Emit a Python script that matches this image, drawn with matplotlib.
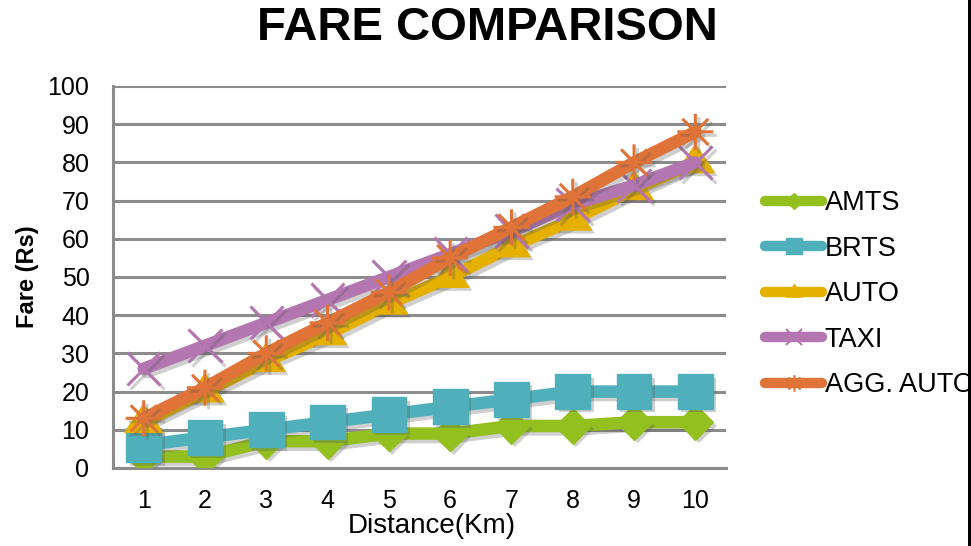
import matplotlib
matplotlib.use("Agg")
import matplotlib.pyplot as plt
import matplotlib.patheffects as pe
from matplotlib.path import Path
from matplotlib.lines import Line2D
from matplotlib.patches import Rectangle

plt.rcParams['font.family'] = ['Liberation Sans', 'DejaVu Sans']

distance = [1, 2, 3, 4, 5, 6, 7, 8, 9, 10]
amts = [3, 3, 7, 7, 9, 9, 11, 11, 12, 12]
brts = [6, 8, 10, 12, 14, 16, 18, 20, 20, 20]
auto = [12, 20, 28, 35, 43, 50, 58, 65, 73, 80]
taxi = [26, 32, 38, 44, 50, 56, 62, 69, 74, 80]
agg_auto = [13, 21, 30, 38, 46, 55, 63, 71, 80, 88]
series_names = ["AMTS", "BRTS", "AUTO", "TAXI", "AGG. AUTO"]
colors = ["#93C01F", "#4FB0BB", "#E5B000", "#B476B0", "#E07338"]

# asterisk marker: plus and cross strokes
asterisk = Path(
    [(-1, 0), (1, 0), (0, -1), (0, 1),
     (-0.72, -0.72), (0.72, 0.72), (-0.72, 0.72), (0.72, -0.72)],
    [Path.MOVETO, Path.LINETO] * 4)
# wide, low triangle
triangle = Path([(-1, -0.55), (1, -0.55), (0, 0.95), (-1, -0.55)],
                [Path.MOVETO, Path.LINETO, Path.LINETO, Path.CLOSEPOLY])

styles = [
    dict(marker="D", ms=18, filled=True),
    dict(marker="s", ms=25, filled=True),
    dict(marker=triangle, ms=27, filled=True),
    dict(marker="x", ms=24, filled=False, mew=2.2),
    dict(marker=asterisk, ms=26, filled=False, mew=2.2),
]

fig = plt.figure(figsize=(9.71, 5.46), dpi=100)
ax = fig.add_axes([0.1164, 0.1429, 0.6313, 0.6996])

line_shadow = [pe.SimpleLineShadow(offset=(2.5, -2.5), shadow_color="#555555", alpha=0.28),
               pe.Normal()]
patch_shadow = [pe.SimplePatchShadow(offset=(2.5, -2.5), shadow_rgbFace="#555555", alpha=0.28),
                pe.Normal()]

data = [amts, brts, auto, taxi, agg_auto]
for i, (vals, col, st) in enumerate(zip(data, colors, styles)):
    z = 3 + i
    ax.plot(distance, vals, color=col, lw=9, solid_capstyle="round",
            solid_joinstyle="round", zorder=z, path_effects=line_shadow)
    if st["filled"]:
        ax.plot(distance, vals, ls="none", marker=st["marker"], ms=st["ms"],
                mfc=col, mec=col, mew=1, zorder=z + 0.5, path_effects=patch_shadow)
    else:
        ax.plot(distance, vals, ls="none", marker=st["marker"], ms=st["ms"],
                mfc="none", mec=col, mew=st["mew"], zorder=z + 0.5,
                path_effects=line_shadow)

ax.set_xlim(0.5, 10.5)
ax.set_ylim(0, 100)
ax.set_xticks(distance)
ax.set_yticks(range(0, 101, 10))
ax.tick_params(axis="both", length=0, labelsize=18, pad=17)
ax.tick_params(axis="x", pad=15)
ax.yaxis.grid(True, color="#8C8C8C", lw=2.2)
ax.set_axisbelow(True)
for s in ["top", "right"]:
    ax.spines[s].set_visible(False)
for s in ["left", "bottom"]:
    ax.spines[s].set_color("#8C8C8C")
    ax.spines[s].set_linewidth(2.2)

ax.set_xlabel("Distance(Km)", fontsize=20, labelpad=0)
ax.xaxis.set_label_coords(0.52, -0.118)
ax.set_ylabel("Fare (Rs)", fontsize=17, fontweight="bold")
ax.yaxis.set_label_coords(-0.12, 0.5)

fig.text(0.502, 0.948, "FARE COMPARISON", fontsize=34, fontweight="bold",
         ha="center", va="center")

# legend handles: short round-capped lines with small markers
handle_ms = [8, 11, 12, 11, 12]
handles = []
for col, st, ms in zip(colors, styles, handle_ms):
    if st["filled"]:
        h = Line2D([], [], color=col, lw=7.5, solid_capstyle="round",
                   marker=st["marker"], ms=ms, mfc=col, mec=col)
    else:
        h = Line2D([], [], color=col, lw=7.5, solid_capstyle="round",
                   marker=st["marker"], ms=ms, mfc="none", mec=col, mew=1.5)
    handles.append(h)

fig.legend(handles, series_names, loc="center left",
           bbox_to_anchor=(0.788, 0.4615), frameon=False, fontsize=19.5,
           handlelength=2.1, handletextpad=0.1, labelspacing=0.72,
           borderaxespad=0, borderpad=0)

fig.patches.append(Rectangle((968 / 971, 0), 3 / 971, 1, transform=fig.transFigure,
                             facecolor="black", edgecolor="none", zorder=10))

fig.savefig("out.png", dpi=100)
